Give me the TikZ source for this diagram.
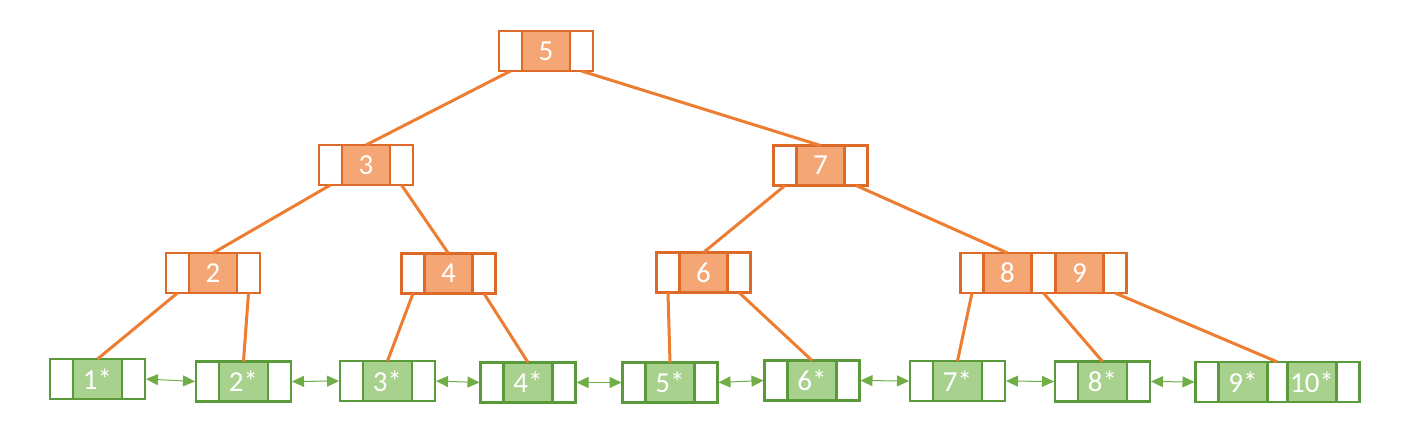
\documentclass[tikz,border=0pt]{standalone}
\usepackage{fontspec}
\setmainfont{Carlito}
\usetikzlibrary{arrows.meta}
\definecolor{obord}{HTML}{DE6A28}
\definecolor{ofill}{HTML}{F4A674}
\definecolor{oline}{HTML}{ED7D31}
\definecolor{gbord}{HTML}{5A9A3A}
\definecolor{gfill}{HTML}{A9D18E}
\definecolor{garrow}{HTML}{70AD47}
\tikzset{
 cell/.style={rectangle, inner sep=0pt, outer sep=0pt, minimum height=40pt, line width=2.5pt,
   font=\fontsize{29}{29}\selectfont, text=white},
 okey/.style={cell, draw=obord, fill=ofill, minimum width=48pt},
 optr/.style={cell, draw=obord, fill=white, minimum width=23pt},
 gkey/.style={cell, draw=gbord, fill=gfill, minimum width=49pt},
 gptr/.style={cell, draw=gbord, fill=white, minimum width=23pt},
 treeedge/.style={oline, line width=3pt},
 leaflink/.style={garrow, line width=1pt, shorten <=1pt, shorten >=1pt,
   {Triangle[length=12pt,width=11pt]}-{Triangle[length=12pt,width=11pt]}},
}
% inner node: key with left and right pointer cells
\newcommand\mkinner[4]{%
  \node[okey] (#1) at (#2,#3) {#4};
  \node[optr, anchor=east] (#1L) at (#1.west) {};
  \node[optr, anchor=west] (#1R) at (#1.east) {};}
\newcommand\mkleaf[4]{%
  \node[gkey] (#1) at (#2,#3) {#4};
  \node[gptr, anchor=east] (#1L) at (#1.west) {};
  \node[gptr, anchor=west] (#1R) at (#1.east) {};}
\begin{document}
\begin{tikzpicture}[x=1pt,y=-1pt]
\useasboundingbox (0,0) rectangle (1406,440);
% inner nodes
\mkinner{r}{546}{51}{5}
\mkinner{a}{366}{165}{3}
\mkinner{b}{820.5}{165.5}{7}
\mkinner{c}{213}{273}{2}
\mkinner{d}{448.5}{273.5}{4}
\mkinner{e}{703.5}{272.5}{6}
% two-key node 8 | 9
\node[okey] (f) at (1007.5,273) {8};
\node[optr, anchor=east] (fL) at (f.west) {};
\node[optr, anchor=west, minimum width=24pt] (fM) at (f.east) {};
\node[okey, anchor=west] (g) at (fM.east) {9};
\node[optr, anchor=west] (gR) at (g.east) {};
% leaves
\mkleaf{l1}{97.5}{379}{1*}
\mkleaf{l2}{243.5}{381.5}{2*}
\mkleaf{l3}{387.5}{381}{3*}
\mkleaf{l4}{528}{382.5}{4*}
\mkleaf{l5}{670}{382.5}{5*}
\mkleaf{l6}{812}{380.5}{6*}
\mkleaf{l7}{957.5}{381}{7*}
\mkleaf{l8}{1102.5}{381.5}{8*}
\node[gkey] (l9) at (1243,382) {9*};
\node[gptr, anchor=east] (l9L) at (l9.west) {};
\node[gptr, anchor=west, minimum width=20pt] (l9M) at (l9.east) {};
\node[gkey, anchor=west] (l10) at (l9M.east) {10*};
\node[gptr, anchor=west] (l10R) at (l10.east) {};
% tree edges
\draw[treeedge] (rL.south) -- (a.north);
\draw[treeedge] (rR.south) -- (b.north);
\draw[treeedge] (aL.south) -- (c.north);
\draw[treeedge] (aR.south) -- (d.north);
\draw[treeedge] (bL.south) -- (e.north);
\draw[treeedge] (bR.south) -- (f.north);
\draw[treeedge] (cL.south) -- (l1.north);
\draw[treeedge] (cR.south) -- (l2.north);
\draw[treeedge] (dL.south) -- (l3.north);
\draw[treeedge] (dR.south) -- (l4.north);
\draw[treeedge] (eL.south) -- (l5.north);
\draw[treeedge] (eR.south) -- (l6.north);
\draw[treeedge] (fL.south) -- (l7.north);
\draw[treeedge] (fM.south) -- (l8.north);
\draw[treeedge] (gR.south) -- (l9M.north);
% leaf links
\draw[leaflink] (l1R.east) -- (l2L.west);
\draw[leaflink] (l2R.east) -- (l3L.west);
\draw[leaflink] (l3R.east) -- (l4L.west);
\draw[leaflink] (l4R.east) -- (l5L.west);
\draw[leaflink] (l5R.east) -- (l6L.west);
\draw[leaflink] (l6R.east) -- (l7L.west);
\draw[leaflink] (l7R.east) -- (l8L.west);
\draw[leaflink] (l8R.east) -- (l9L.west);
\end{tikzpicture}
\end{document}
